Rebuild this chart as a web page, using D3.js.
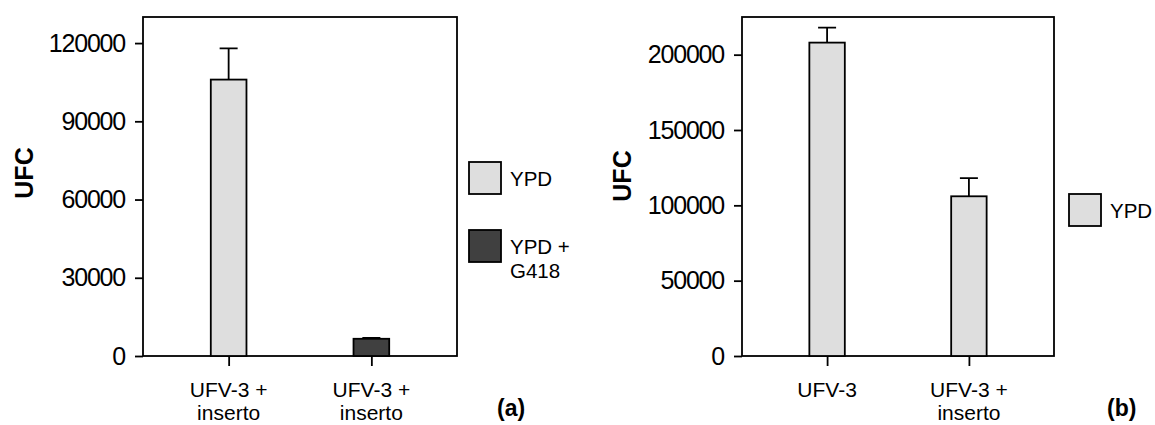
<!DOCTYPE html>
<html>
<head>
<meta charset="utf-8">
<script src="https://cdn.jsdelivr.net/npm/d3@7/dist/d3.min.js"></script>
<style>
  body { margin: 0; background: #fff; }
  svg { display: block; font-family: "Liberation Sans", Arial, sans-serif; }
</style>
</head>
<body>
<svg id="chart" width="1155" height="425"></svg>
<script>
// panel (a)
var categoriesA = [["UFV-3 +", "inserto"], ["UFV-3 +", "inserto"]];
var meansA = [106000, 6600];
var errorsA = [12000, 300];
var ticksA = [0, 30000, 60000, 90000, 120000];
var seriesA = [["YPD"], ["YPD +", "G418"]];
var barSeriesA = [0, 1];

// panel (b)
var categoriesB = [["UFV-3"], ["UFV-3 +", "inserto"]];
var meansB = [208000, 106000];
var errorsB = [10000, 12000];
var ticksB = [0, 50000, 100000, 150000, 200000];
var seriesB = [["YPD"]];
var barSeriesB = [0, 0];

var colors = ["#dedede", "#404040"];

var svg = d3.select("#chart");

function drawPanel(opt) {
    var left = opt.left, right = opt.right, top = 17, bottom = 356;

    var y = d3.scaleLinear().domain([0, opt.max]).range([bottom, top]);
    var x = d3.scalePoint()
        .domain(d3.range(opt.cats.length))
        .range([left, right])
        .padding(0.6);
    var bw = x.step() * 0.25;

    var g = svg.append("g");

    // frame
    g.append("rect")
        .attr("x", left).attr("y", top)
        .attr("width", right - left).attr("height", bottom - top)
        .attr("fill", "none").attr("stroke", "#000").attr("stroke-width", 1.8);

    // y axis
    var yAxis = g.append("g")
        .attr("transform", "translate(" + left + ",0)")
        .call(d3.axisLeft(y).tickValues(opt.ticks).tickSize(8).tickPadding(10).tickFormat(d3.format("d")));
    yAxis.select(".domain").remove();
    yAxis.selectAll("line").attr("stroke", "#000").attr("stroke-width", 1.8);
    yAxis.selectAll("text")
        .attr("font-size", 25).attr("letter-spacing", "-1.2px")
        .attr("font-family", "Liberation Sans, Arial, sans-serif")
        .attr("fill", "#000");

    // x axis
    var xAxis = g.append("g")
        .attr("transform", "translate(0," + bottom + ")")
        .call(d3.axisBottom(x).tickSize(10).tickFormat(""));
    xAxis.select(".domain").remove();
    xAxis.selectAll("line").attr("stroke", "#000").attr("stroke-width", 1.8);

    g.selectAll(".catlabel")
        .data(opt.cats)
        .enter()
        .append("text")
        .attr("class", "catlabel")
        .attr("text-anchor", "middle")
        .attr("font-size", 21)
        .attr("y", 397)
        .each(function(d, i) {
            var t = d3.select(this);
            d.forEach(function(line, j) {
                t.append("tspan").attr("x", x(i)).attr("dy", j ? 23 : 0).text(line);
            });
        });

    // error bars
    g.selectAll(".err")
        .data(opt.means)
        .enter()
        .append("path")
        .attr("d", function(d, i) {
            var cx = x(i), y0 = y(d), y1 = y(d + opt.errs[i]);
            return "M" + cx + "," + y0 + "V" + y1 + "M" + (cx - 9) + "," + y1 + "H" + (cx + 9);
        })
        .attr("fill", "none").attr("stroke", "#000").attr("stroke-width", 1.8);

    // bars
    g.selectAll(".bar")
        .data(opt.means)
        .enter()
        .append("rect")
        .attr("x", function(d, i) { return x(i) - bw / 2; })
        .attr("y", function(d) { return y(d); })
        .attr("width", bw)
        .attr("height", function(d) { return bottom - y(d); })
        .attr("fill", function(d, i) { return colors[opt.barSeries[i]]; })
        .attr("stroke", "#000").attr("stroke-width", 1.8);

    // y title
    g.append("text")
        .attr("transform", "translate(" + opt.titleX + "," + opt.titleY + ") rotate(-90)")
        .attr("text-anchor", "middle")
        .attr("font-size", 25).attr("font-weight", "bold")
        .text("UFC");

    // legend
    var leg = g.selectAll(".leg")
        .data(opt.series)
        .enter()
        .append("g")
        .attr("transform", function(d, i) { return "translate(" + opt.legX + "," + (opt.legY + i * 68) + ")"; });
    leg.append("rect")
        .attr("width", 32).attr("height", 32)
        .attr("fill", function(d, i) { return colors[i]; })
        .attr("stroke", "#000").attr("stroke-width", 1.8);
    leg.append("text")
        .attr("font-size", 20.5)
        .attr("y", 24)
        .each(function(d) {
            var t = d3.select(this);
            d.forEach(function(line, j) {
                t.append("tspan").attr("x", 41).attr("dy", j ? 24 : 0).text(line);
            });
        });

    // panel letter
    g.append("text")
        .attr("x", opt.letterX).attr("y", 416)
        .attr("font-size", 23).attr("font-weight", "bold")
        .text(opt.letter);
}

drawPanel({
    left: 143, right: 457, max: 130000,
    cats: categoriesA, means: meansA, errs: errorsA, ticks: ticksA,
    series: seriesA, barSeries: barSeriesA,
    titleX: 33, titleY: 173, legX: 469, legY: 162,
    letter: "(a)", letterX: 497
});

drawPanel({
    left: 742, right: 1054, max: 225000,
    cats: categoriesB, means: meansB, errs: errorsB, ticks: ticksB,
    series: seriesB, barSeries: barSeriesB,
    titleX: 631, titleY: 176, legX: 1069, legY: 194,
    letter: "(b)", letterX: 1107
});
</script>
</body>
</html>
